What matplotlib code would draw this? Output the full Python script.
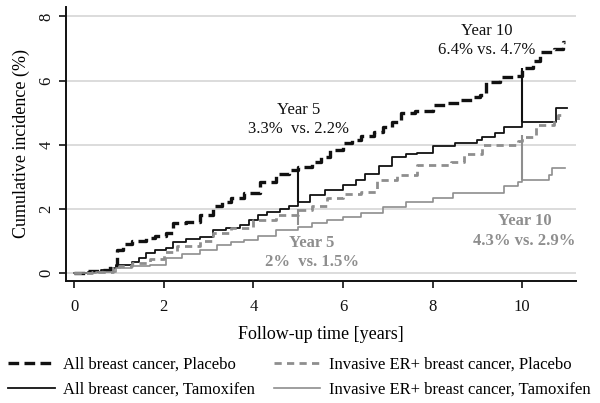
import matplotlib
matplotlib.use("Agg")
from matplotlib import pyplot as plt

# ---------------------------------------------------
# Data
# ---------------------------------------------------
all_pla_t = [0, 0.3, 0.6, 0.8, 0.95, 1.1, 1.3, 1.6, 1.8, 2.05, 2.2, 2.5, 2.8, 3.1, 3.3, 3.5,
             3.8, 4.15, 4.5, 4.8, 5.0, 5.3, 5.5, 5.7, 6.0, 6.2, 6.4, 6.7, 6.9, 7.1, 7.3, 7.6,
             8.0, 8.3, 8.6, 8.9, 9.06, 9.2, 9.5, 9.8, 10.0, 10.25, 10.4, 10.7, 10.9, 10.95]
all_pla_v = [0, 0.05, 0.1, 0.2, 0.72, 0.9, 1.0, 1.1, 1.15, 1.25, 1.56, 1.6, 1.8, 2.1, 2.2, 2.34,
             2.5, 2.84, 3.1, 3.2, 3.3, 3.45, 3.6, 3.84, 4.06, 4.15, 4.28, 4.4, 4.56, 4.7, 5.0, 5.05,
             5.25, 5.3, 5.4, 5.5, 5.56, 5.97, 6.1, 6.15, 6.4, 6.6, 6.9, 7.0, 7.2, 7.2]

all_tam_t = [0, 0.3, 0.6, 0.87, 0.94, 1.3, 1.45, 1.6, 1.8, 2.05, 2.2, 2.5, 2.8, 3.1, 3.4, 3.7,
             3.9, 4.1, 4.3, 4.6, 4.8, 5.0, 5.27, 5.6, 6.0, 6.3, 6.5, 6.8, 7.1, 7.4, 7.65, 8.0,
             8.5, 9.0, 9.1, 9.4, 9.6, 10.0, 10.75, 11.0]
all_tam_v = [0, 0.03, 0.08, 0.15, 0.25, 0.35, 0.45, 0.62, 0.7, 0.78, 0.97, 1.05, 1.13, 1.34, 1.4, 1.5,
             1.65, 1.8, 1.9, 2.0, 2.1, 2.2, 2.44, 2.6, 2.75, 2.9, 3.1, 3.35, 3.6, 3.7, 3.75, 3.95,
             4.06, 4.16, 4.25, 4.35, 4.56, 4.7, 5.15, 5.15]

er_pla_t = [0, 0.4, 0.87, 1.0, 1.3, 1.7, 2.0, 2.3, 2.8, 3.1, 3.5, 4.0, 4.5, 5.0, 5.3, 5.64,
            6.0, 6.4, 6.76, 7.2, 7.65, 8.4, 8.7, 9.1, 9.9, 10.0, 10.3, 10.7, 10.8, 10.95]
er_pla_v = [0, 0.03, 0.15, 0.2, 0.3, 0.43, 0.66, 0.85, 1.0, 1.25, 1.4, 1.65, 1.8, 1.97, 2.1, 2.34,
            2.45, 2.53, 2.9, 3.05, 3.37, 3.47, 3.7, 4.0, 4.1, 4.25, 4.6, 4.78, 4.94, 4.94]

er_tam_t = [0, 0.5, 0.94, 1.3, 1.7, 2.05, 2.4, 2.8, 3.2, 3.5, 3.8, 4.1, 4.5, 5.0, 5.3, 5.64,
            6.0, 6.4, 6.9, 7.4, 8.0, 8.46, 9.6, 9.9, 10.0, 10.6, 10.66, 10.95]
er_tam_v = [0, 0.03, 0.15, 0.2, 0.25, 0.47, 0.6, 0.72, 0.88, 0.95, 1.03, 1.15, 1.34, 1.44, 1.55, 1.65,
            1.75, 1.87, 2.06, 2.2, 2.34, 2.5, 2.7, 2.84, 2.9, 3.06, 3.28, 3.28]

# year markers: (year, low, high)
all_marks = [(5, 2.2, 3.3), (10, 4.7, 6.4)]
er_marks = [(5, 1.5, 2.0), (10, 2.9, 4.3)]

labels = ["All breast cancer, Placebo", "All breast cancer, Tamoxifen",
          "Invasive ER+ breast cancer, Placebo", "Invasive ER+ breast cancer, Tamoxifen"]

black = "#111111"
grey = "#8e8e8e"

plt.rcParams["font.family"] = ["Liberation Serif", "DejaVu Serif"]

fig = plt.figure(figsize=(6, 4.03), dpi=100)
ax = fig.add_axes([0.11, 0.303, 0.85, 0.68])

# ---------------------------------------------------
# Curves
# ---------------------------------------------------
l1, = ax.step(all_pla_t, all_pla_v, where="post", color=black, lw=2.4, dashes=(3.2, 1.6))
l2, = ax.step(all_tam_t, all_tam_v, where="post", color=black, lw=1.3)
l3, = ax.step(er_pla_t, er_pla_v, where="post", color=grey, lw=2.0, dashes=(2.6, 1.9))
l4, = ax.step(er_tam_t, er_tam_v, where="post", color=grey, lw=1.2)

for x, lo, hi in er_marks:
    ax.vlines(x, lo, hi, color=grey, lw=1.5)
for x, lo, hi in all_marks:
    ax.vlines(x, lo, hi, color=black, lw=1.5)

# annotations
ax.text(5.0, 4.78, "Year 5\n3.3%  vs. 2.2%", ha="center", va="center", fontsize=12,
        color=black, linespacing=1.3)
ax.text(9.2, 7.25, "Year 10\n6.4% vs. 4.7%", ha="center", va="center", fontsize=12,
        color=black, linespacing=1.3)
ax.text(5.3, 0.64, "Year 5\n2%  vs. 1.5%", ha="center", va="center", fontsize=12,
        color=grey, fontweight="bold", linespacing=1.3)
ax.text(10.05, 1.31, "Year 10\n4.3% vs. 2.9%", ha="center", va="center", fontsize=12,
        color=grey, fontweight="bold", linespacing=1.3)

# ---------------------------------------------------
# Axes styling
# ---------------------------------------------------
ax.set_xlim(-0.18, 11.2)
ax.set_ylim(-0.25, 8.3)
ax.set_xticks([0, 2, 4, 6, 8, 10])
ax.set_yticks([0, 2, 4, 6, 8])
ax.tick_params(axis="both", labelsize=12, length=5, width=1.2, colors=black)
ax.tick_params(axis="x", pad=8)
for lab in ax.get_yticklabels():
    lab.set_rotation(90)
    lab.set_va("center")
ax.grid(axis="y", color="#d6d6d6", lw=1.2)
ax.set_axisbelow(True)
for side in ["top", "right"]:
    ax.spines[side].set_visible(False)
for side in ["left", "bottom"]:
    ax.spines[side].set_linewidth(1.4)
    ax.spines[side].set_color(black)

ax.set_xlabel("Follow-up time [years]", fontsize=13, labelpad=8)
ax.set_ylabel("Cumulative incidence (%)", fontsize=13, labelpad=6)

fig.legend([l1, l2, l3, l4], labels,
           ncol=2, loc="lower left", bbox_to_anchor=(0.014, 0.013), frameon=False,
           borderpad=0, borderaxespad=0,
           fontsize=12, handlelength=2.8, handletextpad=0.5, columnspacing=1.1,
           labelspacing=0.55)

fig.savefig("out.png", dpi=100)
